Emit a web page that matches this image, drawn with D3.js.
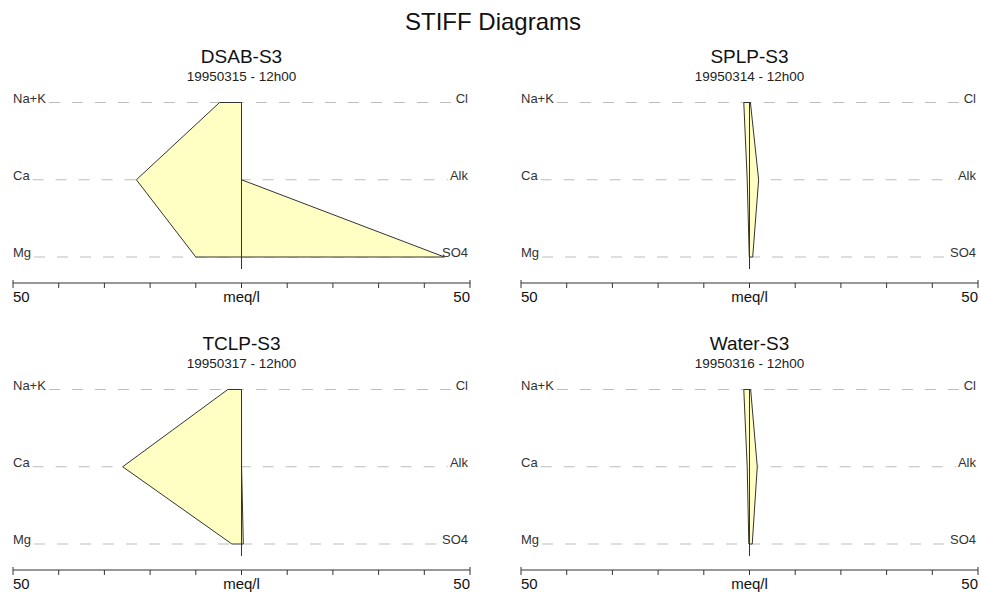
<!DOCTYPE html>
<html>
<head>
<meta charset="utf-8">
<script src="https://cdn.jsdelivr.net/npm/d3@7"></script>
<style>
  html, body { margin: 0; padding: 0; background: #fff; }
  svg { display: block; font-family: "Liberation Sans", Arial, sans-serif; }
</style>
</head>
<body>
<svg id="chart" width="981" height="597"></svg>
<script>
// Stiff diagrams: cations to the left, anions to the right (meq/l)
const panelNames = ["DSAB-S3", "SPLP-S3", "TCLP-S3", "Water-S3"];
const panelDates = ["19950315 - 12h00", "19950314 - 12h00", "19950317 - 12h00", "19950316 - 12h00"];
const cations = ["Na+K", "Ca", "Mg"];
const anions = ["Cl", "Alk", "SO4"];
// one row per panel, same order as cations / anions
const cationValues = [
  [4.8, 23, 10],
  [1.25, 0.5, 0.05],
  [3.0, 26, 2.1],
  [1.25, 0.5, 0.15]
];
const anionValues = [
  [0, 0, 44.4],
  [0.2, 2.0, 0.7],
  [0, 0.02, 0.4],
  [0.25, 1.7, 0.6]
];
const axisTicks = [-50, -40, -30, -20, -10, 0, 10, 20, 30, 40, 50];

const svg = d3.select("#chart");
const INK = "#333";

svg.append("text")
  .attr("x", 493).attr("y", 30)
  .attr("text-anchor", "middle")
  .attr("font-size", 24)
  .attr("fill", "#111")
  .text("STIFF Diagrams");

const x = d3.scaleLinear().domain([-50, 50]).range([13, 470]);
const y = d3.scalePoint().domain(d3.range(3)).range([102.5, 257]);
const axisY = 283;

panelNames.forEach((name, p) => {
  const g = svg.append("g")
    .attr("transform", `translate(${(p % 2) * 508},${Math.floor(p / 2) * 287})`);
  const cx = x(0);

  g.append("text")
    .attr("x", cx).attr("y", 63)
    .attr("text-anchor", "middle")
    .attr("font-size", 19)
    .attr("fill", "#111")
    .text(name);
  g.append("text")
    .attr("x", cx).attr("y", 81)
    .attr("text-anchor", "middle")
    .attr("font-size", 13.5)
    .attr("fill", "#222")
    .text(panelDates[p]);

  // row labels + dashed guides
  cations.forEach((c, i) => {
    const left = g.append("text")
      .attr("x", x(-50)).attr("y", y(i))
      .attr("font-size", 13)
      .attr("fill", INK)
      .text(c);
    const right = g.append("text")
      .attr("x", x(50) - 2).attr("y", y(i))
      .attr("text-anchor", "end")
      .attr("font-size", 13)
      .attr("fill", INK)
      .text(anions[i]);
    const lw = left.node().getComputedTextLength();
    const rw = right.node().getComputedTextLength();
    g.append("line")
      .attr("x1", x(-50) + lw + 3).attr("x2", x(50) - 2 - rw - 2)
      .attr("y1", y(i)).attr("y2", y(i))
      .attr("stroke", "#bdbdbd")
      .attr("stroke-width", 1)
      .attr("stroke-dasharray", "11,12");
  });

  // polygon
  const cv = cationValues[p], av = anionValues[p];
  const pts = [
    [x(-cv[0]), y(0)], [x(av[0]), y(0)], [x(av[1]), y(1)], [x(av[2]), y(2)],
    [x(-cv[2]), y(2)], [x(-cv[1]), y(1)]
  ];
  g.append("path")
    .attr("d", d3.line()(pts) + "Z")
    .attr("fill", "#ffffc4")
    .attr("stroke", INK)
    .attr("stroke-width", 1);

  // centre line
  g.append("line")
    .attr("x1", cx).attr("x2", cx)
    .attr("y1", y(0)).attr("y2", y(2) + 12)
    .attr("stroke", INK)
    .attr("stroke-width", 1);

  // axis
  const axis = g.append("g");
  axis.append("line")
    .attr("x1", x(-50)).attr("x2", x(50))
    .attr("y1", axisY).attr("y2", axisY)
    .attr("stroke", INK).attr("stroke-width", 1.2);
  axis.selectAll("line.tick")
    .data(axisTicks)
    .enter().append("line")
    .attr("class", "tick")
    .attr("x1", d => x(d)).attr("x2", d => x(d))
    .attr("y1", d => Math.abs(d) === 50 ? axisY - 3 : axisY)
    .attr("y2", axisY + 5)
    .attr("stroke", INK).attr("stroke-width", 1);
  axis.append("text")
    .attr("x", x(-50)).attr("y", axisY + 19)
    .attr("font-size", 15).attr("fill", "#111")
    .text("50");
  axis.append("text")
    .attr("x", x(50)).attr("y", axisY + 19)
    .attr("text-anchor", "end")
    .attr("font-size", 15).attr("fill", "#111")
    .text("50");
  axis.append("text")
    .attr("x", cx).attr("y", axisY + 19)
    .attr("text-anchor", "middle")
    .attr("font-size", 15).attr("fill", "#111")
    .text("meq/l");
});
</script>
</body>
</html>
